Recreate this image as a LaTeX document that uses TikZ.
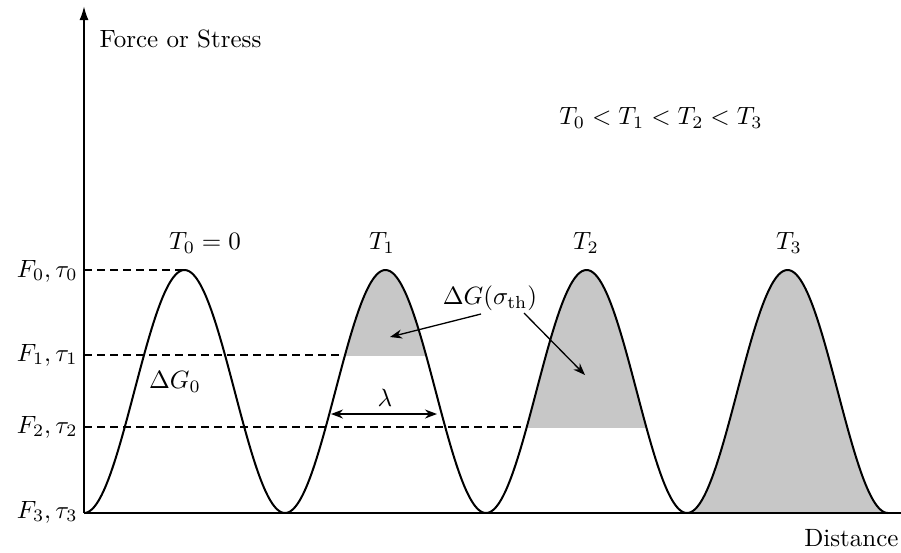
\documentclass[tikz,border=0pt]{standalone}
\usetikzlibrary{arrows.meta}
\begin{document}
\begin{tikzpicture}[x=1pt,y=-1pt,
  curve/.style={line width=2pt,line join=round},
  axisline/.style={line width=2pt},
  guide/.style={line width=1.5pt,dash pattern=on 8pt off 5pt},
  shade/.style={fill=black!22},
  lbl/.style={inner sep=0pt,scale=2.5},
  ptr/.style={line width=1.3pt,-{Stealth[length=12pt,width=9pt]}}
]
\useasboundingbox (0,0) rectangle (901,552);
\def\yy#1{513-121.5*(1-cos(1.791045*(#1-84)))}
% shaded parts
\begin{scope}
  \clip (300,355) rectangle (470,260);
  \fill[shade] plot[domain=285:486,samples=200] (\x,{\yy{\x}}) -- cycle;
\end{scope}
\begin{scope}
  \clip (500,427) rectangle (670,260);
  \fill[shade] plot[domain=486:687,samples=200] (\x,{\yy{\x}}) -- cycle;
\end{scope}
\fill[shade] plot[domain=687:888,samples=200] (\x,{\yy{\x}}) -- cycle;
% coordinates
\coordinate (O) at (84,513);
\coordinate (ytop) at (84,6);
\coordinate (xend) at (901,513);
\coordinate (f0) at (84,270);
\coordinate (p0) at (184.5,270);
\coordinate (f1) at (84,355);
\coordinate (c1) at (345,355);
\coordinate (f2) at (84,427);
\coordinate (c2) at (527,427);
\coordinate (la) at (331,414);
\coordinate (lb) at (437,414);
\coordinate (g1) at (390,337);
\coordinate (g2) at (585,375);
% guides
\draw[guide] (f0) -- (p0);
\draw[guide] (f1) -- (c1);
\draw[guide,line width=1.9pt] (f2) -- (c2);
% axes
\draw[axisline] (O) -- (xend);
\draw[axisline,-{Latex[length=14pt,width=9pt]}] (O) -- (ytop);
% curve
\draw[curve] plot[domain=84:888,samples=500] (\x,{\yy{\x}});
% labels
\node[lbl,anchor=west] (ylab) at (99,39) {Force or Stress};
\node[lbl,anchor=east] (xlab) at (899,538) {Distance};
\node[lbl] (order) at (661,118) {$T_0 < T_1 < T_2 < T_3$};
\node[lbl] (t0) at (205,243) {$T_0 = 0$};
\node[lbl] (t1) at (382,243) {$T_1$};
\node[lbl] (t2) at (586,243) {$T_2$};
\node[lbl] (t3) at (789,243) {$T_3$};
\node[lbl,anchor=east] (lf0) at (78,271) {$F_0,\tau_0$};
\node[lbl,anchor=east] (lf1) at (78,355) {$F_1,\tau_1$};
\node[lbl,anchor=east] (lf2) at (78,427) {$F_2,\tau_2$};
\node[lbl,anchor=east] (lf3) at (78,512) {$F_3,\tau_3$};
\node[lbl] (dg0) at (175,382) {$\Delta G_0$};
\node[lbl] (lam) at (385,398) {$\lambda$};
\node[lbl] (dg) at (490,298) {$\Delta G(\sigma_{\mathrm{th}})$};
% arrows
\draw[line width=1.5pt,{Stealth[length=12pt,width=9pt]}-{Stealth[length=12pt,width=9pt]}] (la) -- (lb);
\draw[ptr] (481,314) -- (g1);
\draw[ptr] (524,313) -- (g2);
\end{tikzpicture}
\end{document}
